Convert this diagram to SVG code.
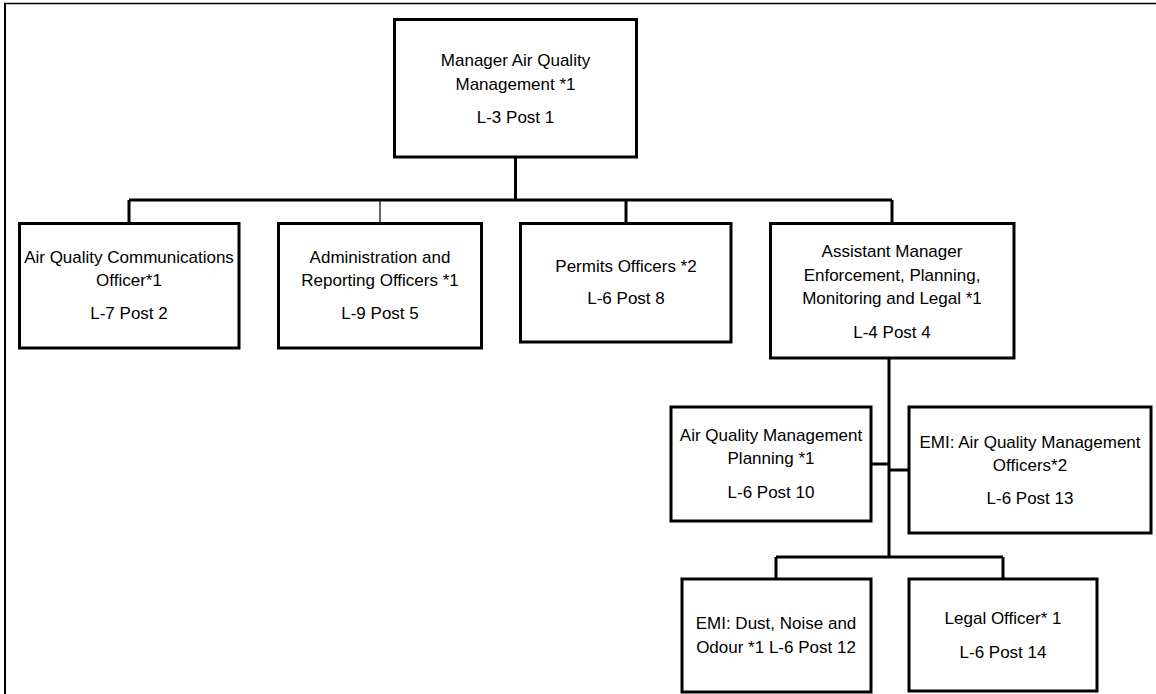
<svg xmlns="http://www.w3.org/2000/svg" width="1156" height="694" viewBox="0 0 1156 694">
  <style>
    .box { fill: #ffffff; stroke: #000000; stroke-width: 3; }
    .conn { fill: none; stroke: #000000; stroke-width: 3; }
    .thin { fill: none; stroke: #000000; stroke-width: 1.2; }
    text { font-family: "Liberation Sans", Arial, sans-serif; font-size: 17px; fill: #000000; text-anchor: middle; }
  </style>
  <rect x="0" y="0" width="1156" height="694" fill="#ffffff"/>
  <g id="frame">
    <line x1="4" y1="3.5" x2="1156" y2="3.5" stroke="#000" stroke-width="1.6"/>
    <line x1="5" y1="3" x2="5" y2="694" stroke="#000" stroke-width="2"/>
  </g>
  <g id="connectors">
    <path class="conn" d="M515.5 157 V200 M129 200 H892 M129 200 V223 M626 200 V223 M892 200 V223"/>
    <path class="thin" d="M380 200 V223"/>
    <path class="conn" d="M889 358 V557 M871 464 H889 M889 470 H909 M776 557 H1003 M776 557 V579 M1003 557 V579"/>
  </g>
  <g id="manager">
    <rect class="box" x="394.5" y="19.5" width="242" height="137.5"/>
    <text x="515.5" y="66">Manager Air Quality</text>
    <text x="515.5" y="90">Management *1</text>
    <text x="515.5" y="123">L-3 Post 1</text>
  </g>
  <g id="comms">
    <rect class="box" x="19.5" y="223.5" width="219.5" height="124.5"/>
    <text x="129" y="263">Air Quality Communications</text>
    <text x="129" y="286">Officer*1</text>
    <text x="129" y="319">L-7 Post 2</text>
  </g>
  <g id="admin">
    <rect class="box" x="278.5" y="223.5" width="203" height="124.5"/>
    <text x="380" y="263">Administration and</text>
    <text x="380" y="286">Reporting Officers *1</text>
    <text x="380" y="319">L-9 Post 5</text>
  </g>
  <g id="permits">
    <rect class="box" x="520.5" y="223.5" width="210.5" height="118.5"/>
    <text x="626" y="272">Permits Officers *2</text>
    <text x="626" y="304">L-6 Post 8</text>
  </g>
  <g id="assistant">
    <rect class="box" x="770.5" y="223.5" width="243.5" height="134.5"/>
    <text x="892" y="257">Assistant Manager</text>
    <text x="892" y="281">Enforcement, Planning,</text>
    <text x="892" y="304">Monitoring and Legal *1</text>
    <text x="892" y="338">L-4 Post 4</text>
  </g>
  <g id="aqm-planning">
    <rect class="box" x="671" y="407" width="200" height="114"/>
    <text x="771" y="441">Air Quality Management</text>
    <text x="771" y="464">Planning *1</text>
    <text x="771" y="498">L-6 Post 10</text>
  </g>
  <g id="emi-aqm">
    <rect class="box" x="909" y="407" width="242" height="126"/>
    <text x="1030" y="448">EMI: Air Quality Management</text>
    <text x="1030" y="471">Officers*2</text>
    <text x="1030" y="504">L-6 Post 13</text>
  </g>
  <g id="emi-dust">
    <rect class="box" x="682" y="579" width="189" height="113"/>
    <text x="776" y="629">EMI: Dust, Noise and</text>
    <text x="776" y="653">Odour *1 L-6 Post 12</text>
  </g>
  <g id="legal">
    <rect class="box" x="909" y="579" width="188" height="112"/>
    <text x="1003" y="624">Legal Officer* 1</text>
    <text x="1003" y="658">L-6 Post 14</text>
  </g>
</svg>
